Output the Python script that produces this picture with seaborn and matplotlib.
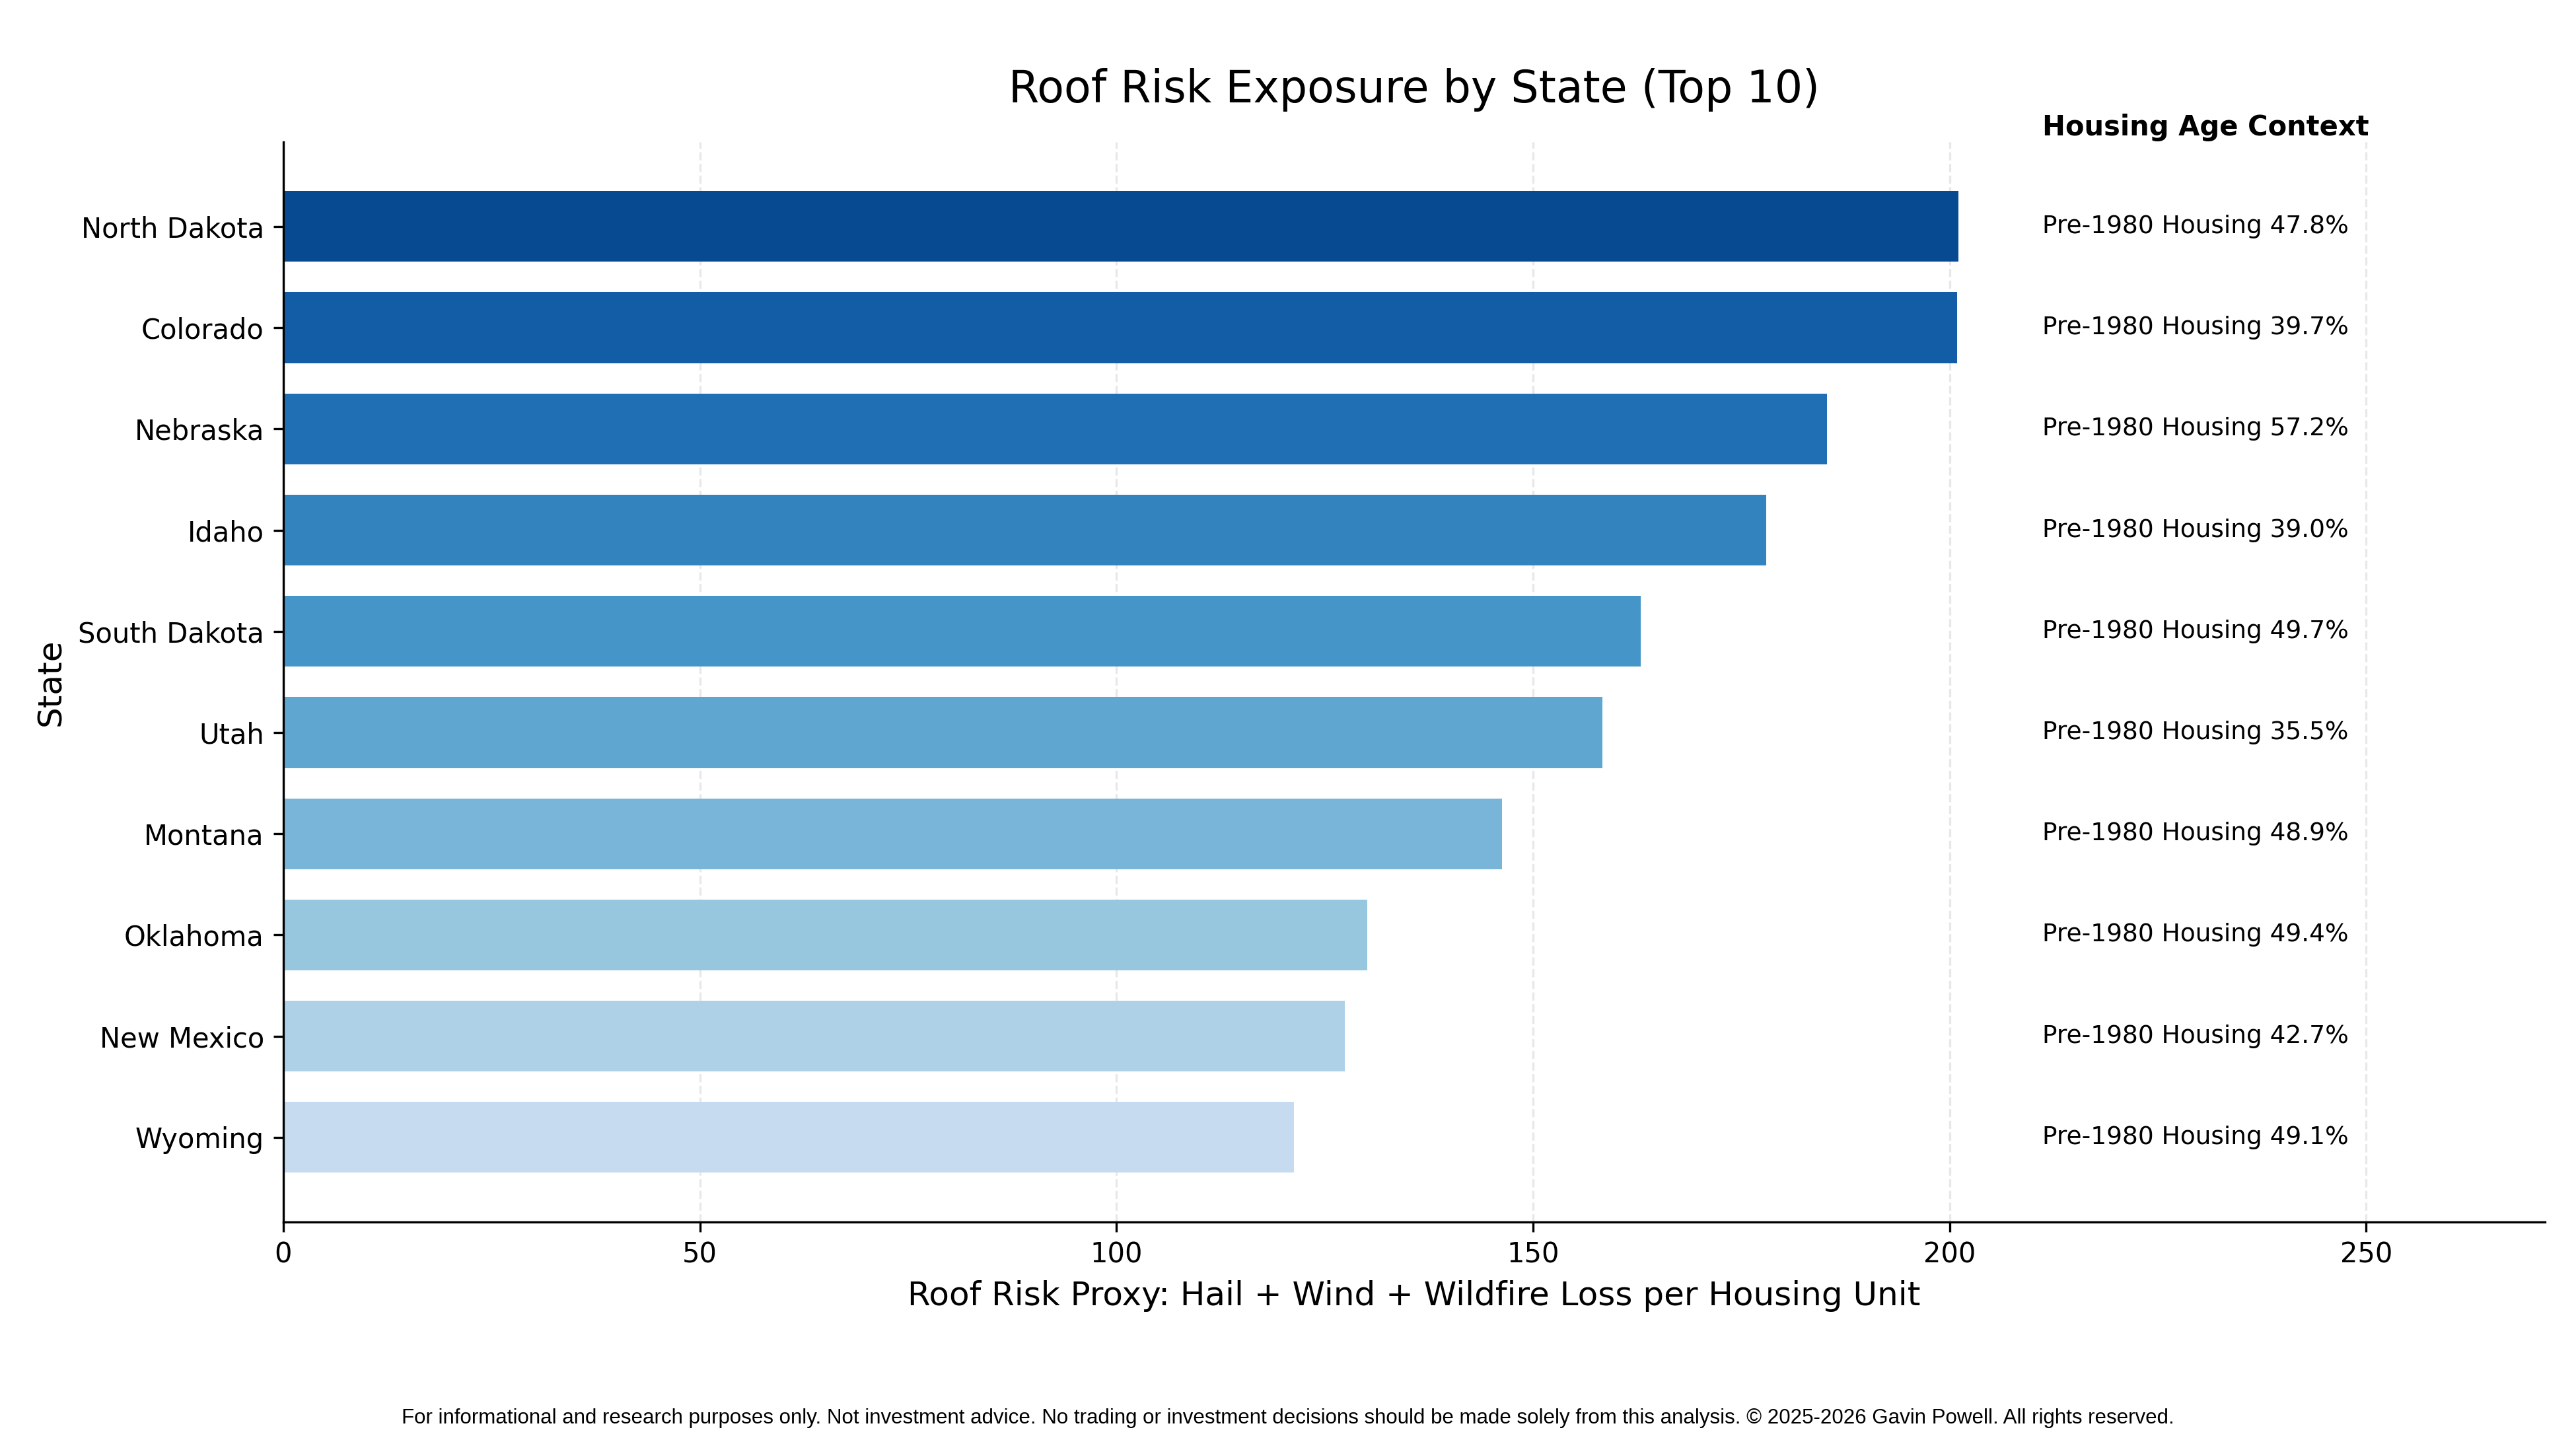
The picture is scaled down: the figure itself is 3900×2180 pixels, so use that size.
import numpy as np
import pandas as pd
import matplotlib
matplotlib.use("Agg")
import matplotlib.pyplot as plt
import seaborn as sns

states = ["North Dakota", "Colorado", "Nebraska", "Idaho", "South Dakota",
          "Utah", "Montana", "Oklahoma", "New Mexico", "Wyoming"]
roof_risk = [201.1, 200.9, 185.3, 178.0, 162.9, 158.3, 146.3, 130.1, 127.4, 121.3]
pre1980_pct = [47.8, 39.7, 57.2, 39.0, 49.7, 35.5, 48.9, 49.4, 42.7, 49.1]

df = pd.DataFrame({"State": states, "Risk": roof_risk, "Pre1980": pre1980_pct})

# darkest bar on top
colors = plt.cm.Blues(np.linspace(0.9, 0.25, len(states)))

fig, ax = plt.subplots(figsize=(13, 7.2667), dpi=300)
fig.subplots_adjust(left=0.110, right=0.988, top=0.9014, bottom=0.1515)

sns.barplot(data=df, y="State", x="Risk", hue="State", palette=list(colors),
            order=states, hue_order=states, width=0.7, legend=False,
            saturation=1, ax=ax)

xmax = max(roof_risk)
ax.set_xlim(0, xmax * 1.35)
ax.set_ylim(len(states) - 1 + 0.835, -0.835)

ax.grid(axis="x", linestyle="--", color="lightgray", alpha=0.5, linewidth=0.8)
ax.set_axisbelow(True)
ax.spines["top"].set_visible(False)
ax.spines["right"].set_visible(False)
ax.tick_params(axis="both", labelsize=10)

text_x = xmax * 1.05
for i, p in enumerate(pre1980_pct):
    ax.text(text_x, i, f"Pre-1980 Housing {p:.1f}%", va="center", ha="left", fontsize=9)
ax.text(text_x, -0.98, "Housing Age Context", va="center", ha="left",
        fontsize=10, fontweight="bold", clip_on=False)

ax.set_title("Roof Risk Exposure by State (Top 10)", fontsize=16, pad=14.5)
ax.set_xlabel("Roof Risk Proxy: Hail + Wind + Wildfire Loss per Housing Unit", fontsize=12)
ax.set_ylabel("State", fontsize=12)

fig.text(0.5, 0.015,
         "For informational and research purposes only. Not investment advice. "
         "No trading or investment decisions should be made solely from this analysis. "
         "\u00a9 2025-2026 Gavin Powell. All rights reserved.",
         ha="center", va="center", fontsize=7.5, family="Liberation Sans")

fig.savefig("out.png", dpi=300)
